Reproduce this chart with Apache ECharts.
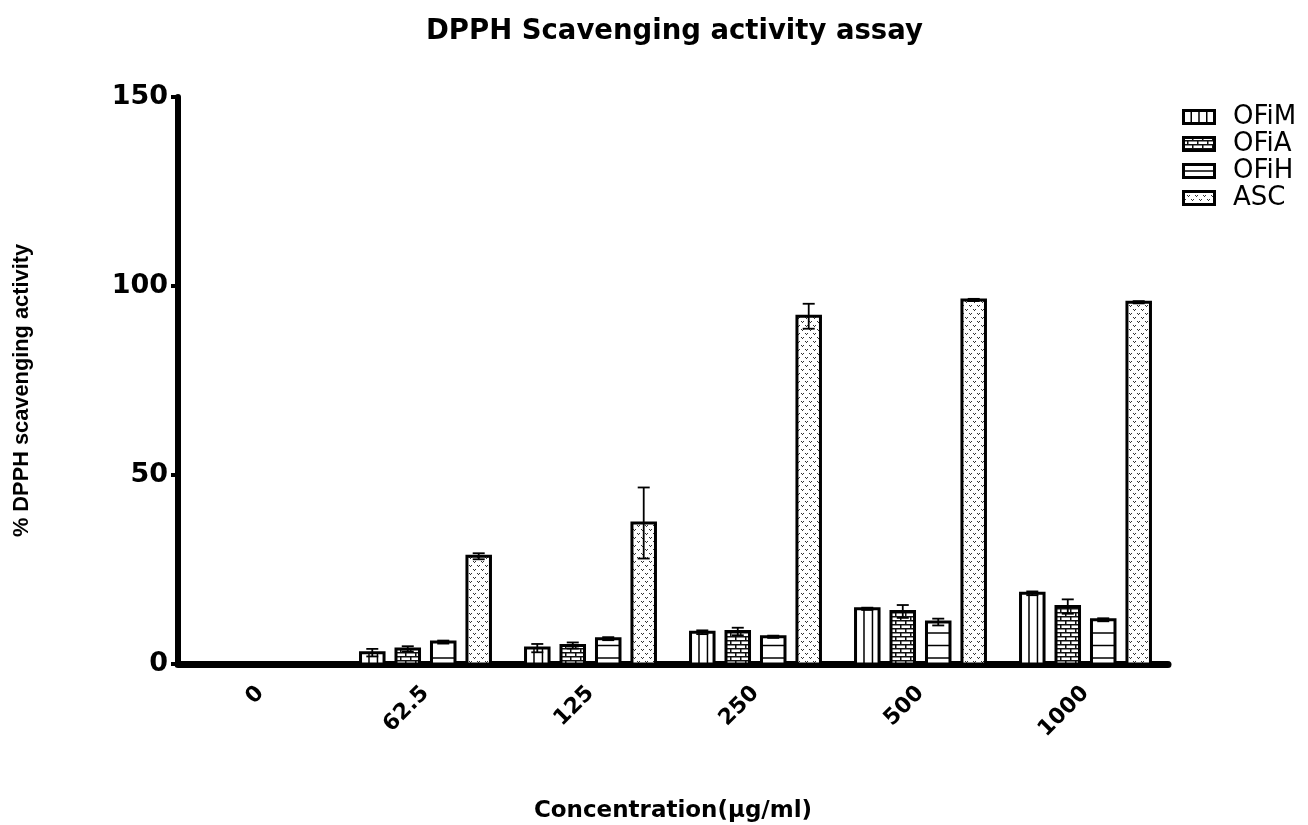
<!DOCTYPE html>
<html>
<head>
<meta charset="utf-8">
<script src="https://cdn.jsdelivr.net/npm/echarts@6/dist/echarts.min.js"></script>
<style>
  html, body { margin: 0; padding: 0; background: #fff; }
  #chart { width: 1308px; height: 825px; }
</style>
</head>
<body>
<div id="chart"></div>
<script>
// Concentrations (µg/ml) on the category axis
const categories = ['0', '62.5', '125', '250', '500', '1000'];
const seriesNames = ['OFiM', 'OFiA', 'OFiH', 'ASC'];

// Mean % DPPH scavenging activity and error (±) per concentration
const ofimMean = [0, 3.0, 4.2, 8.4, 14.6, 18.7];
const ofimErr  = [0, 1.0, 1.1, 0.5, 0.3, 0.5];
const ofiaMean = [0, 4.0, 4.9, 8.6, 13.9, 15.2];
const ofiaErr  = [0, 0.7, 0.8, 1.0, 1.7, 1.9];
const ofihMean = [0, 5.8, 6.7, 7.2, 11.1, 11.7];
const ofihErr  = [0, 0.4, 0.4, 0.3, 0.9, 0.4];
const ascMean  = [0, 28.5, 37.3, 92.0, 96.3, 95.7];
const ascErr   = [0, 0.8, 9.4, 3.3, 0.3, 0.3];

const yTicks = [0, 50, 100, 150];

const means = [ofimMean, ofiaMean, ofihMean, ascMean];
const errs = [ofimErr, ofiaErr, ofihErr, ascErr];

// ---- fill textures ----
function brickTile() {
  const c = document.createElement('canvas');
  c.width = 10; c.height = 8;
  const g = c.getContext('2d');
  g.fillStyle = '#fff'; g.fillRect(0, 0, 10, 8);
  g.fillStyle = '#111';
  g.fillRect(0, 0, 10, 1.5);
  g.fillRect(0, 4, 10, 1.5);
  g.fillRect(0, 0, 1.5, 4);
  g.fillRect(5, 4, 1.5, 4);
  return c;
}
function stippleTile() {
  const c = document.createElement('canvas');
  c.width = 8; c.height = 8;
  const g = c.getContext('2d');
  g.fillStyle = '#fff'; g.fillRect(0, 0, 8, 8);
  g.fillStyle = '#333';
  // two small "v" marks, staggered rows
  [[1, 1], [5, 5]].forEach(([x, y]) => {
    g.fillRect(x, y, 1, 1);
    g.fillRect(x + 2, y, 1, 1);
    g.fillRect(x + 1, y + 1, 1, 1);
  });
  return c;
}
const brick = brickTile();
const stipple = stippleTile();
const fills = [
  '#fff',
  { image: brick, repeat: 'repeat' },
  '#fff',
  { image: stipple, repeat: 'repeat' }
];

// Extra line work inside a bar (vertical dividers / horizontal rules)
function innerLines(k, x, w, top, base) {
  const out = [];
  if (k === 0) {
    [0.36, 0.72].forEach(f => {
      out.push({ type: 'line', shape: { x1: x + w * f, y1: top, x2: x + w * f, y2: base },
        style: { stroke: '#000', lineWidth: 1.5 } });
    });
  } else if (k === 2) {
    for (let y = base - 6; y > top + 4; y -= 12.5) {
      out.push({ type: 'line', shape: { x1: x, y1: y, x2: x + w, y2: y },
        style: { stroke: '#000', lineWidth: 1.5 } });
    }
  }
  return out;
}

// Legend swatches drawn to small images (swatch on the left, clear margin on the right)
const ICON_W = 46, ICON_H = 16, SW_W = 34;
function legendIcon(k) {
  const c = document.createElement('canvas');
  c.width = ICON_W; c.height = ICON_H;
  const g = c.getContext('2d');
  const x = 1.5, y = 1.5, w = SW_W - 3, h = ICON_H - 3;
  g.fillStyle = k === 1 ? g.createPattern(brick, 'repeat') : k === 3 ? g.createPattern(stipple, 'repeat') : '#fff';
  g.fillRect(x, y, w, h);
  g.strokeStyle = '#000';
  g.lineWidth = 1.5;
  if (k === 0) {
    [0.25, 0.5, 0.75].forEach(f => { g.beginPath(); g.moveTo(x + w * f, y); g.lineTo(x + w * f, y + h); g.stroke(); });
  } else if (k === 2) {
    g.beginPath(); g.moveTo(x, y + h / 2); g.lineTo(x + w, y + h / 2); g.stroke();
  }
  g.lineWidth = 3;
  g.strokeRect(x, y, w, h);
  return 'image://' + c.toDataURL();
}

function makeRender(k) {
  return function (params, api) {
    const idx = api.value(0);
    const mean = api.value(1);
    const err = api.value(2);
    if (!mean) return null;
    const catW = api.size([1, 0])[0];
    const step = catW * 0.215;
    const bw = catW * 0.1425;
    const base = api.coord([idx, 0]);
    const top = api.coord([idx, mean]);
    const hi = api.coord([idx, mean + err]);
    const lo = api.coord([idx, mean - err]);
    const cx = base[0] + (k - 1.5) * step;
    const x = cx - bw / 2;
    const children = [
      { type: 'rect', shape: { x: x, y: top[1], width: bw, height: base[1] - top[1] },
        style: { fill: fills[k], stroke: 'none' } }
    ].concat(innerLines(k, x, bw, top[1], base[1]));
    children.push({ type: 'rect', shape: { x: x, y: top[1], width: bw, height: base[1] - top[1] },
      style: { fill: 'none', stroke: '#000', lineWidth: 3 } });
    if (err > 0) {
      const cap = 6;
      children.push(
        { type: 'line', shape: { x1: cx, y1: hi[1], x2: cx, y2: lo[1] }, style: { stroke: '#000', lineWidth: 1.8 } },
        { type: 'line', shape: { x1: cx - cap, y1: hi[1], x2: cx + cap, y2: hi[1] }, style: { stroke: '#000', lineWidth: 1.8 } },
        { type: 'line', shape: { x1: cx - cap, y1: lo[1], x2: cx + cap, y2: lo[1] }, style: { stroke: '#000', lineWidth: 1.8 } }
      );
    }
    return { type: 'group', children: children };
  };
}

const series = seriesNames.map((name, k) => ({
  name: name,
  type: 'custom',
  coordinateSystem: 'cartesian2d',
  encode: { x: 0, y: 1 },
  itemStyle: { color: '#fff', borderColor: '#000' },
  data: categories.map((c, i) => [i, means[k][i], errs[k][i]]),
  renderItem: makeRender(k),
  z: 3
}));

const chart = echarts.init(document.getElementById('chart'), null, { renderer: 'canvas' });
chart.setOption({
  backgroundColor: '#fff',
  animation: false,
  title: {
    text: 'DPPH Scavenging activity assay',
    left: 421,
    top: 13,
    textStyle: { fontFamily: 'DejaVu Sans', fontWeight: 'bold', fontSize: 27.5, color: '#000' }
  },
  legend: {
    orient: 'vertical',
    left: 1177,
    top: 99,
    itemWidth: ICON_W,
    itemHeight: ICON_H,
    itemGap: 1,
    textStyle: { fontFamily: 'DejaVu Sans', fontSize: 26, color: '#000' },
    data: seriesNames.map((n, k) => ({ name: n, icon: legendIcon(k) }))
  },
  grid: { left: 178, right: 140, top: 97, bottom: 161, containLabel: false, outerBoundsMode: 'none' },
  xAxis: {
    type: 'category',
    data: categories,
    boundaryGap: true,
    name: 'Concentration(μg/ml)',
    nameLocation: 'middle',
    nameGap: 136,
    nameTextStyle: { fontFamily: 'DejaVu Sans', fontWeight: 'bold', fontSize: 23, color: '#000' },
    axisLine: { lineStyle: { color: '#000', width: 7 } },
    axisTick: { alignWithLabel: true, length: 7, lineStyle: { color: '#000', width: 6 } },
    axisLabel: { rotate: 45, margin: 26, fontFamily: 'DejaVu Sans', fontWeight: 'bold', fontSize: 22, color: '#000' },
    splitLine: { show: false }
  },
  yAxis: {
    type: 'value',
    min: 0,
    max: 150,
    interval: 50,
    name: '% DPPH scavenging activity',
    nameLocation: 'middle',
    nameGap: 145,
    nameTextStyle: { fontFamily: 'Liberation Sans', fontWeight: 'bold', fontSize: 21.8, color: '#000', padding: [0, 20, 0, 0] },
    axisLine: { show: true, lineStyle: { color: '#000', width: 6 } },
    axisTick: { show: true, length: 7, lineStyle: { color: '#000', width: 4 } },
    axisLabel: {
      margin: 10,
      fontFamily: 'DejaVu Sans', fontWeight: 'bold', fontSize: 27, color: '#000',
      formatter: v => (yTicks.indexOf(v) >= 0 ? String(v) : '')
    },
    splitLine: { show: false }
  },
  series: series
});
</script>
</body>
</html>
